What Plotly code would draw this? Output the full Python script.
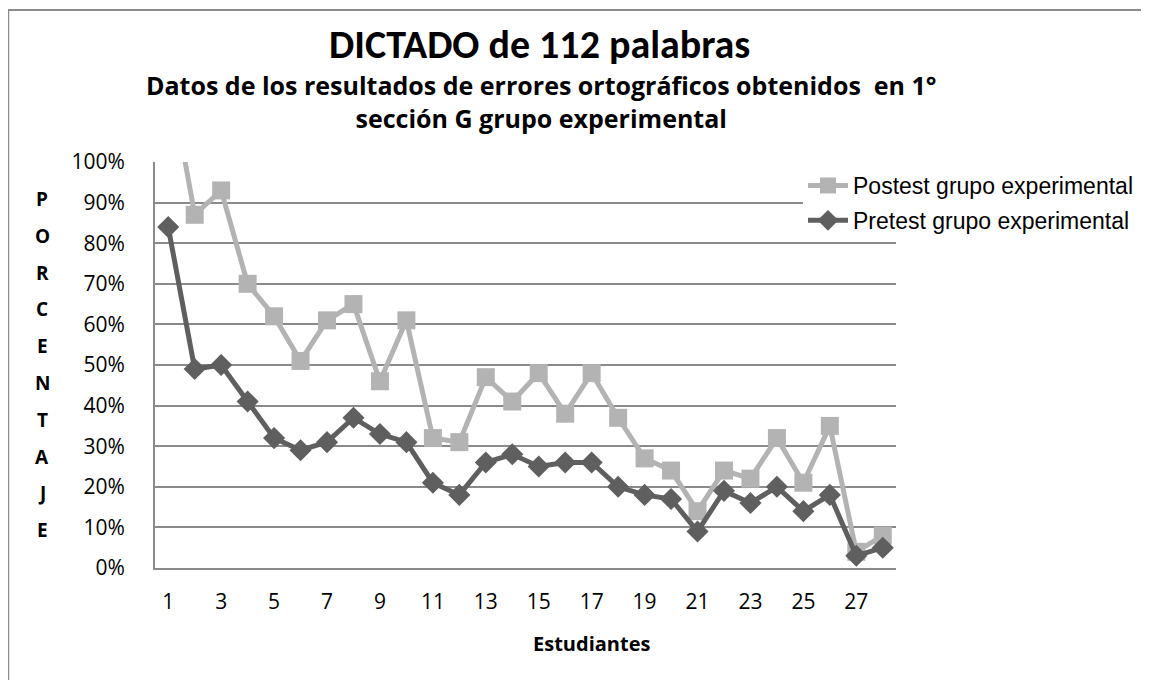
import plotly.graph_objects as go

students = list(range(1, 29))
postest = [1.23, 0.87, 0.93, 0.70, 0.62, 0.51, 0.61, 0.65, 0.46, 0.61,
           0.32, 0.31, 0.47, 0.41, 0.48, 0.38, 0.48, 0.37, 0.27, 0.24,
           0.14, 0.24, 0.22, 0.32, 0.21, 0.35, 0.04, 0.08]
pretest = [0.84, 0.49, 0.50, 0.41, 0.32, 0.29, 0.31, 0.37, 0.33, 0.31,
           0.21, 0.18, 0.26, 0.28, 0.25, 0.26, 0.26, 0.20, 0.18, 0.17,
           0.09, 0.19, 0.16, 0.20, 0.14, 0.18, 0.03, 0.05]
series_names = ["Postest grupo experimental", "Pretest grupo experimental"]
title_main = "DICTADO de 112 palabras"
subtitle_1 = "Datos de los resultados de errores ortográficos obtenidos  en 1°"
subtitle_2 = "sección G grupo experimental"
y_letters = list("PORCENTAJE")
x_title = "Estudiantes"

OFF = 8  # page body margin
W, H = 1149 - OFF, 680 - OFF
L, R, T, B = 155 - OFF, 897 - OFF, 162 - OFF, 568 - OFF
CAL = "Carlito, Calibri, 'Open Sans', sans-serif"
OPEN = "'Open Sans', sans-serif"
ARIAL = "'Liberation Sans', Arial, sans-serif"


def px(x):
    return (x - OFF - L) / (R - L)


def py(y):
    return (B - (y - OFF)) / (B - T)


fig = go.Figure()
fig.add_trace(go.Scatter(
    x=students, y=postest, name=series_names[0], mode="lines+markers",
    line=dict(color="#b3b3b3", width=5), legendgroup="a",
    marker=dict(symbol="square", size=18, color="#b3b3b3"),
))
fig.add_trace(go.Scatter(
    x=students, y=pretest, name=series_names[1], mode="lines+markers",
    line=dict(color="#5f5f5f", width=5), legendgroup="b",
    marker=dict(symbol="diamond", size=17, color="#5f5f5f"),
))


def ann(text, x, y, font, size):
    return dict(text=text, x=px(x), y=py(y), xref="paper", yref="paper",
                xanchor="center", yanchor="middle", showarrow=False,
                font=dict(family=font, size=size, color="black"))


annotations = [
    ann(f"<b>{title_main}</b>", 540, 44, CAL, 40),
    ann(f"<b>{subtitle_1}<br>{subtitle_2}</b>", 542, 102, OPEN, 25),
    ann(f"<b>{x_title}</b>", 592, 643, OPEN, 20),
]
for i, ch in enumerate(y_letters):
    annotations.append(ann(f"<b>{ch}</b>", 42, 199 + i * 36.8, OPEN, 19))

fig.update_layout(
    width=W, height=H,
    margin=dict(l=L, r=W - R, t=T, b=H - B, pad=0),
    paper_bgcolor="white", plot_bgcolor="white",
    showlegend=True,
    legend=dict(x=px(803), y=py(164), xanchor="left", yanchor="top",
                bgcolor="white", font=dict(family=ARIAL, size=23, color="black"),
                tracegroupgap=2, itemwidth=40),
    annotations=annotations,
    shapes=[dict(type="rect", xref="paper", yref="paper",
                 x0=px(8), x1=px(1170), y0=py(10), y1=py(700),
                 line=dict(color="#8a8a8a", width=2), fillcolor="rgba(0,0,0,0)",
                 layer="below")],
    xaxis=dict(range=[0.5, 28.5], tickmode="linear", tick0=1, dtick=2,
               showgrid=False, zeroline=False, showline=True, linecolor="#8a8a8a",
               linewidth=2, ticks="", ticklabelstandoff=14,
               tickfont=dict(family=OPEN, size=21, color="black")),
    yaxis=dict(range=[0, 1], tickmode="linear", tick0=0, dtick=0.1, tickformat=".0%",
               showgrid=True, gridcolor="#8a8a8a", gridwidth=2, zeroline=False,
               showline=True, linecolor="#8a8a8a", linewidth=2, ticks="",
               ticklabelstandoff=24,
               tickfont=dict(family=OPEN, size=21, color="black")),
)

fig.write_html("out.html")
